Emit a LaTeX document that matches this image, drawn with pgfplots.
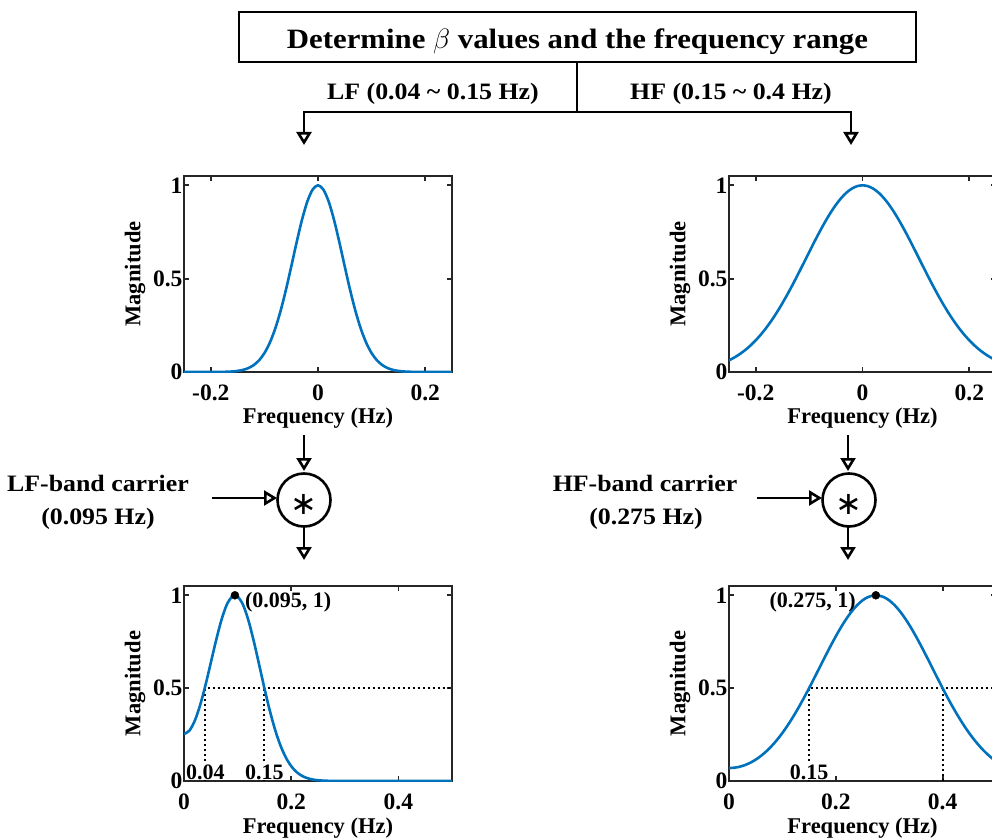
\documentclass[border=0pt]{standalone}
\usepackage{fix-cm}
\usepackage{fontspec}
\setmainfont{Liberation Serif}
\newfontfamily\flow[FakeStretch=1.1]{Liberation Serif}
\newfontfamily\djv{DejaVu Sans}
\usepackage{pgfplots}
\pgfplotsset{compat=1.18}
\usetikzlibrary{arrows.meta}
\definecolor{mblue}{HTML}{0072BD}
\definecolor{axc}{HTML}{262626}
\pgfplotsset{
 panel/.style={
  scale only axis, width=268pt, height=196pt, anchor=south west,
  axis line style={axc, line width=2.3pt},
  tick style={axc, line width=1.8pt},
  major tick length=5pt,
  tick align=inside, tick pos=both,
  ymin=0, ymax=1.05, ytick={0,0.5,1}, yticklabels={0,0.5,1},
  tick label style={font=\fontsize{23.5}{23.5}\selectfont\bfseries},
  xticklabel style={yshift=-9pt},
  yticklabel style={xshift=2pt},
  label style={font=\fontsize{22.5}{22.5}\selectfont\bfseries},
  xlabel={Frequency (Hz)}, ylabel={Magnitude},
  xlabel style={at={(axis description cs:0.5,-0.235)}, anchor=center},
  ylabel style={at={(axis description cs:-0.183,0.5)}, anchor=center},
  clip=true,
 },
 curve/.style={mblue, line width=2.6pt, smooth, no marks},
 dots/.style={black, line width=2pt, dash pattern=on 2pt off 3pt, no marks},
}
\newcommand{\mfont}{\fontsize{22}{22}\selectfont\bfseries}
\newcommand{\ffont}{\flow\bfseries\fontsize{23.5}{23.5}\selectfont}
\begin{document}
\begin{tikzpicture}[x=1pt,y=1pt]
\useasboundingbox (0,0) rectangle (992,839);
\clip (0,0) rectangle (992,839);
\begin{scope}[line width=2.6pt, black, arr/.style={-{Triangle[open,width=15pt,length=13pt]}}]
 \draw (239,827) rectangle (916,777);
 \node[anchor=base, font=\flow\bfseries\fontsize{28}{28}\selectfont] at (577.5,790) {Determine $\beta$ values and the frequency range};
 \draw[arr] (577,777) -- (577,727) -| (304,694);
 \draw[arr] (577,727) -| (851,694);
 \node[anchor=base, font=\ffont] at (433,739) {LF (0.04 \textasciitilde{} 0.15 Hz)};
 \node[anchor=base, font=\ffont] at (731,739) {HF (0.15 \textasciitilde{} 0.4 Hz)};
 % left multiplier
 \draw[arr] (304,404) -- (304,368);
 \draw (304,339) circle[radius=26.5pt];
 \node[inner sep=0pt] at (304,335) {\djv\fontsize{32}{32}\selectfont ∗};
 \draw[arr] (304,313) -- (304,279);
 \draw[arr] (212,341) -- (277,341);
 \node[anchor=base, font=\ffont] at (98,347.5) {LF-band carrier};
 \node[anchor=base, font=\ffont] at (98,315) {(0.095 Hz)};
 % right multiplier
 \draw[arr] (848,404) -- (848,368);
 \draw (849,339) circle[radius=26.5pt];
 \node[inner sep=0pt] at (849,335) {\djv\fontsize{32}{32}\selectfont ∗};
 \draw[arr] (848,313) -- (848,279);
 \draw[arr] (757,341) -- (822,341);
 \node[anchor=base, font=\ffont] at (645,347.5) {HF-band carrier};
 \node[anchor=base, font=\ffont] at (646,315) {(0.275 Hz)};
\end{scope}

% top-left: LF Gaussian window
\begin{axis}[panel, at={(184pt,467pt)}, xmin=-0.25, xmax=0.25,
  xtick={-0.2,0,0.2}, xticklabels={-0.2,0,0.2}]
\addplot[curve] coordinates {
(-0.25,0) (-0.20,0.0001) (-0.19,0.0003) (-0.18,0.0006) (-0.17,0.0013) (-0.16,0.0028)
(-0.15,0.0058) (-0.14,0.0112) (-0.13,0.0208) (-0.12,0.0369) (-0.11,0.0625) (-0.10,0.1011)
(-0.09,0.1563) (-0.08,0.2307) (-0.07,0.3254) (-0.06,0.4383) (-0.05,0.5639) (-0.04,0.6931)
(-0.03,0.8137) (-0.02,0.9124) (-0.01,0.9774) (0,1)
(0.01,0.9774) (0.02,0.9124) (0.03,0.8137) (0.04,0.6931) (0.05,0.5639) (0.06,0.4383)
(0.07,0.3254) (0.08,0.2307) (0.09,0.1563) (0.10,0.1011) (0.11,0.0625) (0.12,0.0369)
(0.13,0.0208) (0.14,0.0112) (0.15,0.0058) (0.16,0.0028) (0.17,0.0013) (0.18,0.0006)
(0.19,0.0003) (0.20,0.0001) (0.25,0)
};
\end{axis}

% top-right: HF Gaussian window
\begin{axis}[panel, at={(729pt,467pt)}, width=267pt, xmin=-0.25, xmax=0.25,
  xtick={-0.2,0,0.2}, xticklabels={-0.2,0,0.2}]
\addplot[curve] coordinates {
(-0.25,0.0625) (-0.24,0.0777) (-0.23,0.0957) (-0.22,0.1168) (-0.21,0.1414) (-0.20,0.1696)
(-0.19,0.2016) (-0.18,0.2376) (-0.17,0.2775) (-0.16,0.3212) (-0.15,0.3686) (-0.14,0.4192)
(-0.13,0.4725) (-0.12,0.5279) (-0.11,0.5846) (-0.10,0.6417) (-0.09,0.6982) (-0.08,0.7528)
(-0.07,0.8046) (-0.06,0.8524) (-0.05,0.8950) (-0.04,0.9315) (-0.03,0.9609) (-0.02,0.9824)
(-0.01,0.9956) (0,1)
(0.01,0.9956) (0.02,0.9824) (0.03,0.9609) (0.04,0.9315) (0.05,0.8950) (0.06,0.8524)
(0.07,0.8046) (0.08,0.7528) (0.09,0.6982) (0.10,0.6417) (0.11,0.5846) (0.12,0.5279)
(0.13,0.4725) (0.14,0.4192) (0.15,0.3686) (0.16,0.3212) (0.17,0.2775) (0.18,0.2376)
(0.19,0.2016) (0.20,0.1696) (0.21,0.1414) (0.22,0.1168) (0.23,0.0957) (0.24,0.0777)
(0.25,0.0625)
};
\end{axis}

% bottom-left: LF band-pass
\begin{axis}[panel, height=195pt, at={(184pt,58pt)}, xmin=0, xmax=0.5,
  xtick={0,0.2,0.4}, xticklabels={0,0.2,0.4},
  xlabel style={at={(axis description cs:0.5,-0.241)}}]
\addplot[dots] coordinates {(0.04,0) (0.04,0.5) (0.5,0.5)};
\addplot[dots] coordinates {(0.15,0) (0.15,0.5)};
\addplot[curve] coordinates {
(0.00,0.2529) (0.01,0.2710) (0.02,0.3239) (0.03,0.4076) (0.04,0.5154) (0.05,0.6369)
(0.06,0.7593) (0.07,0.8685) (0.08,0.9507) (0.09,0.9947) (0.095,1.0000) (0.10,0.9945)
(0.11,0.9498) (0.12,0.8666) (0.13,0.7553) (0.14,0.6288) (0.15,0.5000) (0.16,0.3798)
(0.17,0.2756) (0.18,0.1910) (0.19,0.1265) (0.20,0.0800) (0.21,0.0483) (0.22,0.0279)
(0.23,0.0154) (0.24,0.0081) (0.25,0.0041) (0.26,0.0020) (0.27,0.0009) (0.28,0.0004)
(0.30,0.0001) (0.35,0) (0.50,0)
};
\addplot[only marks, mark=*, mark size=4pt, black] coordinates {(0.095,1)};
\node[anchor=west, inner sep=0pt, xshift=10pt, yshift=-7pt, font=\mfont] at (axis cs:0.095,1) {(0.095, 1)};
\node[anchor=base, fill=white, inner sep=1pt, yshift=2pt, font=\mfont] at (axis cs:0.04,0) {0.04};
\node[anchor=base, fill=white, inner sep=1pt, yshift=2pt, font=\mfont] at (axis cs:0.15,0) {0.15};
\end{axis}

% bottom-right: HF band-pass
\begin{axis}[panel, height=195pt, width=267pt, at={(729pt,58pt)}, xmin=0, xmax=0.5,
  xtick={0,0.2,0.4}, xticklabels={0,0.2,0.4},
  xlabel style={at={(axis description cs:0.5,-0.241)}}]
\addplot[dots] coordinates {(0.15,0) (0.15,0.5) (0.5,0.5)};
\addplot[dots] coordinates {(0.40,0) (0.40,0.5)};
\addplot[curve] coordinates {
(0,0.0698) (0.01,0.0716) (0.02,0.0769) (0.03,0.0859) (0.04,0.0986) (0.05,0.1151)
(0.06,0.1356) (0.07,0.1601) (0.08,0.1889) (0.09,0.2218) (0.10,0.2590) (0.11,0.3003)
(0.12,0.3455) (0.13,0.3942) (0.14,0.4460) (0.15,0.5003) (0.16,0.5564) (0.17,0.6133)
(0.18,0.6702) (0.19,0.7258) (0.20,0.7792) (0.21,0.8291) (0.22,0.8744) (0.23,0.9141)
(0.24,0.9471) (0.25,0.9727) (0.26,0.9901) (0.27,0.9989) (0.275,1.0000) (0.28,0.9989)
(0.29,0.9901) (0.30,0.9727) (0.31,0.9471) (0.32,0.9141) (0.33,0.8744) (0.34,0.8291)
(0.35,0.7792) (0.36,0.7258) (0.37,0.6701) (0.38,0.6132) (0.39,0.5562) (0.40,0.5000)
(0.41,0.4455) (0.42,0.3935) (0.43,0.3445) (0.44,0.2989) (0.45,0.2571) (0.46,0.2191)
(0.47,0.1851) (0.48,0.1550) (0.49,0.1287) (0.50,0.1059)
};
\addplot[only marks, mark=*, mark size=4pt, black] coordinates {(0.275,1)};
\node[anchor=east, inner sep=0pt, xshift=-20pt, yshift=-7pt, font=\mfont] at (axis cs:0.275,1) {(0.275, 1)};
\node[anchor=base, fill=white, inner sep=1pt, yshift=2pt, font=\mfont] at (axis cs:0.15,0) {0.15};
\end{axis}
\end{tikzpicture}
\end{document}
